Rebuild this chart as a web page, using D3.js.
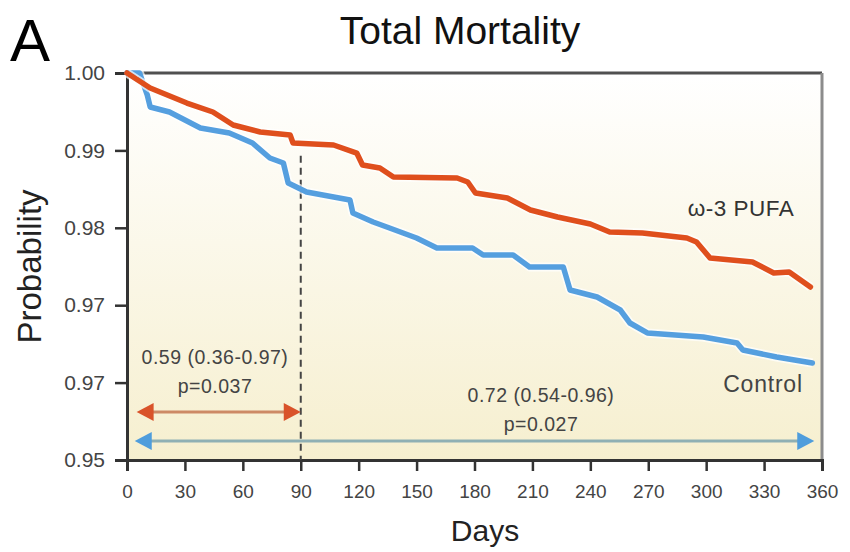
<!DOCTYPE html>
<html>
<head>
<meta charset="utf-8">
<script src="https://cdn.jsdelivr.net/npm/d3@7"></script>
<style>
  body { margin: 0; background: #fff; }
  text { font-family: "Liberation Sans", Arial, sans-serif; }
</style>
</head>
<body>
<div id="chart"></div>
<script>
// survival curves (days, probability)
const pufaDays = [0, 12, 31, 44.5, 55, 69, 84.5, 86, 107, 119, 122, 131, 138, 171, 176.5, 180.5, 197, 209, 223, 240, 250, 267, 290, 295, 302, 324, 335, 343, 354];
const pufaProb = [1.0, 0.99806, 0.99612, 0.99496, 0.99328, 0.99238, 0.99199, 0.99096, 0.9907, 0.98966, 0.98811, 0.98773, 0.98656, 0.98643, 0.98592, 0.9845, 0.98385, 0.9823, 0.9814, 0.98049, 0.97946, 0.97933, 0.97868, 0.97817, 0.9761, 0.97558, 0.97416, 0.97429, 0.97235];

const controlDays = [0, 6.5, 10.5, 12, 22, 38, 53, 65, 74, 81, 83.5, 93, 115.5, 117, 127.5, 136, 150, 160.5, 179, 184.5, 200, 208.5, 226, 229.5, 243.5, 255.5, 260.5, 269.5, 298.5, 316, 319, 336.5, 355];
const controlProb = [1.0, 1.0, 0.99716, 0.99561, 0.99496, 0.99289, 0.99225, 0.99096, 0.98902, 0.98837, 0.98579, 0.98463, 0.98359, 0.98191, 0.98075, 0.97997, 0.97868, 0.97739, 0.97739, 0.97649, 0.97649, 0.97494, 0.97494, 0.97196, 0.97106, 0.96938, 0.9677, 0.96641, 0.96589, 0.96512, 0.96421, 0.96331, 0.96253];

const xTicks = [0, 30, 60, 90, 120, 150, 180, 210, 240, 270, 300, 330, 360];
const yTicks = [1.0, 0.99, 0.98, 0.97, 0.96, 0.95];
const yTickLabels = ["1.00", "0.99", "0.98", "0.97", "0.97", "0.95"];

// hazard ratio annotations
const earlySpan = [5, 90];      // days
const earlyText = ["0.59 (0.36-0.97)", "p=0.037"];
const fullSpan = [4, 356];
const fullText = ["0.72 (0.54-0.96)", "p=0.027"];
const cutoffDay = 90;

const width = 850, height = 552;
const margin = { top: 73, right: 27, bottom: 92, left: 127 };

const svg = d3.select("#chart")
  .append("svg")
  .attr("width", width)
  .attr("height", height);

const x = d3.scaleLinear().domain([0, 360]).range([margin.left, width - margin.right - 1]);
const y = d3.scaleLinear().domain([0.95, 1.0]).range([height - margin.bottom, margin.top]);

// plot background, white fading to cream
const grad = svg.append("defs").append("linearGradient")
  .attr("id", "bg").attr("x1", 0).attr("x2", 0).attr("y1", 0).attr("y2", 1);
grad.append("stop").attr("offset", "0%").attr("stop-color", "#ffffff");
grad.append("stop").attr("offset", "100%").attr("stop-color", "#f6efcf");

svg.append("rect")
  .attr("x", x(0)).attr("y", y(1.0))
  .attr("width", x(360) - x(0)).attr("height", y(0.95) - y(1.0))
  .attr("fill", "url(#bg)");

// frame: top and right
svg.append("line")
  .attr("x1", x(0)).attr("x2", x(360)).attr("y1", y(1.0)).attr("y2", y(1.0))
  .attr("stroke", "#505050").attr("stroke-width", 3);
svg.append("line")
  .attr("x1", x(360)).attr("x2", x(360)).attr("y1", y(1.0)).attr("y2", y(0.95))
  .attr("stroke", "#8c8c8c").attr("stroke-width", 3);

// axes
const yAxis = svg.append("g")
  .attr("transform", `translate(${x(0)},0)`)
  .call(d3.axisLeft(y).tickValues(yTicks).tickSize(12).tickPadding(10)
    .tickFormat((d, i) => yTickLabels[i]));

const xAxis = svg.append("g")
  .attr("transform", `translate(0,${y(0.95)})`)
  .call(d3.axisBottom(x).tickValues(xTicks).tickSize(11).tickPadding(14));

[xAxis, yAxis].forEach(g => {
  g.select(".domain").attr("stroke", "#333").attr("stroke-width", 3);
  g.selectAll(".tick line").attr("stroke", "#333").attr("stroke-width", 2.5);
  g.selectAll(".tick text").attr("fill", "#444").attr("font-size", 21);
});
xAxis.selectAll(".tick text").attr("font-size", 19);

// dashed cut-off at 90 days
svg.append("line")
  .attr("x1", x(cutoffDay)).attr("x2", x(cutoffDay))
  .attr("y1", y(0.9893)).attr("y2", y(0.95))
  .attr("stroke", "#444").attr("stroke-width", 2)
  .attr("stroke-dasharray", "7,5");

// survival lines
const line = d3.line().x(d => x(d[0])).y(d => y(d[1]));
const series = [
  { pts: d3.zip(controlDays, controlProb), color: "#559fdf" },
  { pts: d3.zip(pufaDays, pufaProb), color: "#df4f1d" }
];
series.forEach(s => {
  svg.append("path").datum(s.pts).attr("d", line)
    .attr("fill", "none").attr("stroke", "#ffffff").attr("stroke-opacity", 0.7)
    .attr("stroke-width", 9).attr("stroke-linejoin", "round");
  svg.append("path").datum(s.pts).attr("d", line)
    .attr("fill", "none").attr("stroke", s.color)
    .attr("stroke-width", 5.5).attr("stroke-linejoin", "round").attr("stroke-linecap", "round");
});

// double-headed arrows
const arrow = (span, yPos, lineColor, headColor) => {
  const x0 = x(span[0]), x1 = x(span[1]), hw = 17, hh = 9;
  svg.append("line")
    .attr("x1", x0 + hw - 2).attr("x2", x1 - hw + 2).attr("y1", yPos).attr("y2", yPos)
    .attr("stroke", lineColor).attr("stroke-width", 3);
  svg.append("path")
    .attr("d", `M${x0},${yPos} L${x0 + hw},${yPos - hh} L${x0 + hw},${yPos + hh} Z`)
    .attr("fill", headColor);
  svg.append("path")
    .attr("d", `M${x1},${yPos} L${x1 - hw},${yPos - hh} L${x1 - hw},${yPos + hh} Z`)
    .attr("fill", headColor);
};
arrow(fullSpan, y(0.95245), "#8fb0b4", "#4f9ddc");
arrow(earlySpan, y(0.9562), "#cd8a66", "#d9532a");

// annotation text
const note = (lines, cx, cy) => {
  lines.forEach((t, i) => {
    svg.append("text")
      .attr("x", cx).attr("y", cy + i * 29)
      .attr("text-anchor", "middle").attr("font-size", 19.5)
      .attr("letter-spacing", 0.5).attr("fill", "#444")
      .text(t);
  });
};
note(earlyText, 215, 364);
note(fullText, 541, 402);

svg.append("text").attr("x", 741).attr("y", 216)
  .attr("text-anchor", "middle").attr("font-size", 22.5).attr("letter-spacing", 0.5)
  .attr("fill", "#333").text("ω-3 PUFA");
svg.append("text").attr("x", 763).attr("y", 392)
  .attr("text-anchor", "middle").attr("font-size", 23).attr("letter-spacing", 0.8)
  .attr("fill", "#444").text("Control");

// titles
svg.append("text").attr("x", 460).attr("y", 44)
  .attr("text-anchor", "middle").attr("font-size", 39).attr("fill", "#111").text("Total Mortality");
svg.append("text").attr("x", 10).attr("y", 61)
  .attr("font-size", 60).attr("fill", "#000").text("A");
svg.append("text")
  .attr("transform", `translate(41,${(y(1.0) + y(0.95)) / 2}) rotate(-90)`)
  .attr("text-anchor", "middle").attr("font-size", 33).attr("fill", "#222").text("Probability");
svg.append("text").attr("x", 485).attr("y", 541)
  .attr("text-anchor", "middle").attr("font-size", 30).attr("fill", "#222").text("Days");
</script>
</body>
</html>
